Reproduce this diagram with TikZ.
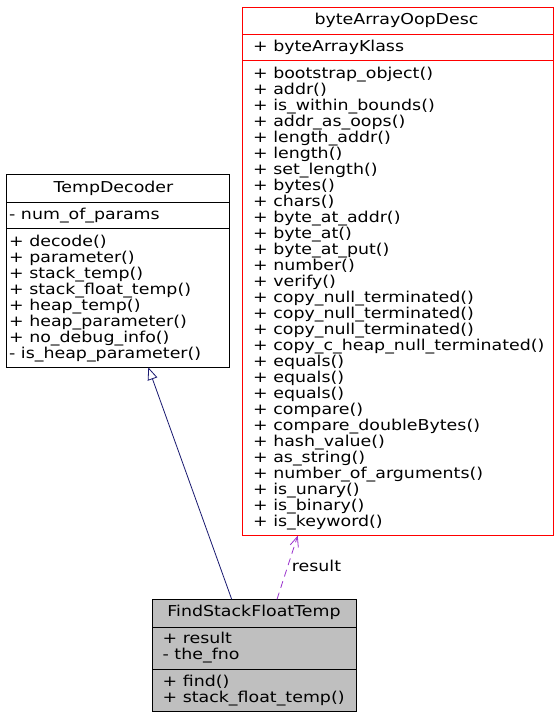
\documentclass[tikz,border=0pt]{standalone}
\usepackage{fontspec}
\setmainfont{DejaVu Sans}[FakeStretch=1.16]
\usetikzlibrary{arrows.meta,calc}
\definecolor{edgeblue}{HTML}{191970}
\definecolor{edgepurple}{HTML}{9A32CD}
\definecolor{boxgray}{HTML}{BFBFBF}
\tikzset{
  classbox/.style={draw, line width=0.8bp, inner sep=0pt, outer sep=0pt, anchor=north west},
  sepline/.style={line width=0.8bp},
  txt/.style={anchor=base west, inner sep=0pt, font=\fontsize{15bp}{16bp}\selectfont},
  ttl/.style={anchor=base, inner sep=0pt, font=\fontsize{15bp}{16bp}\selectfont},
  inherit/.style={draw=edgeblue, line width=0.8bp, -{Triangle[open, length=12.5bp, width=10bp]}},
  usage/.style={draw=edgepurple, line width=0.8bp, dash pattern=on 7bp off 5bp, -{Straight Barb[length=10bp, width=8.5bp]}}
}
\begin{document}
\begin{tikzpicture}[x=1bp, y=-1bp]
\useasboundingbox (0,0) rectangle (559,719);
\fill[white] (0,0) rectangle (559,719);

% byteArrayOopDesc
\node[classbox, draw=red, minimum width=310.7bp, minimum height=528.4bp] (bao) at (242.3,7.3) {};
\draw[sepline, red] (242.3,34) -- (553,34);
\draw[sepline, red] (242.3,60.5) -- (553,60.5);
\node[ttl] (baoT) at (396.5,25) {byteArrayOopDesc};
\node[txt] (baoA) at (253,52) {+ byteArrayKlass};
\foreach \t [count=\i from 0] in {bootstrap\_object(), addr(), is\_within\_bounds(), addr\_as\_oops(), length\_addr(), length(), set\_length(), bytes(), chars(), byte\_at\_addr(), byte\_at(), byte\_at\_put(), number(), verify(), copy\_null\_terminated(), copy\_null\_terminated(), copy\_null\_terminated(), copy\_c\_heap\_null\_terminated(), equals(), equals(), equals(), compare(), compare\_doubleBytes(), hash\_value(), as\_string(), number\_of\_arguments(), is\_unary(), is\_binary(), is\_keyword()}
  \node[txt] (baoM\i) at (253, 78.3+16*\i) {+ \t};

% TempDecoder
\node[classbox, draw=black, minimum width=222.6bp, minimum height=192.6bp] (td) at (6.7,174.7) {};
\draw[sepline] (6.7,202) -- (229.3,202);
\draw[sepline] (6.7,228.7) -- (229.3,228.7);
\node[ttl] (tdT) at (113.5,192.5) {TempDecoder};
\node[txt] (tdA) at (9,219.7) {- num\_of\_params};
\foreach \t [count=\i from 0] in {+ decode(), + parameter(), + stack\_temp(), + stack\_float\_temp(), + heap\_temp(), + heap\_parameter(), + no\_debug\_info(), - is\_heap\_parameter()}
  \node[txt] (tdM\i) at (9, 246.3+16*\i) {\t};

% FindStackFloatTemp
\node[classbox, draw=black, fill=boxgray, minimum width=204.4bp, minimum height=112.4bp] (fsf) at (152.3,599.3) {};
\draw[sepline] (152.3,627) -- (356.7,627);
\draw[sepline] (152.3,669) -- (356.7,669);
\node[ttl] (fsfT) at (254,616.7) {FindStackFloatTemp};
\node[txt] (fsfA0) at (162.5,643.3) {+ result};
\node[txt] (fsfA1) at (162.5,659.3) {- the\_fno};
\node[txt] (fsfM0) at (162.5,686.7) {+ find()};
\node[txt] (fsfM1) at (162.5,702.7) {+ stack\_float\_temp()};

% connectors
\draw[inherit] ($(fsf.north west)+(79.4,0)$) -- ($(td.south west)+(141.6,0)$);
\draw[usage] ($(fsf.north west)+(124.7,0)$) -- ($(bao.south west)+(55.4,0)$);
\node[txt] (lbl) at (291.7,571.7) {result};
\end{tikzpicture}
\end{document}
